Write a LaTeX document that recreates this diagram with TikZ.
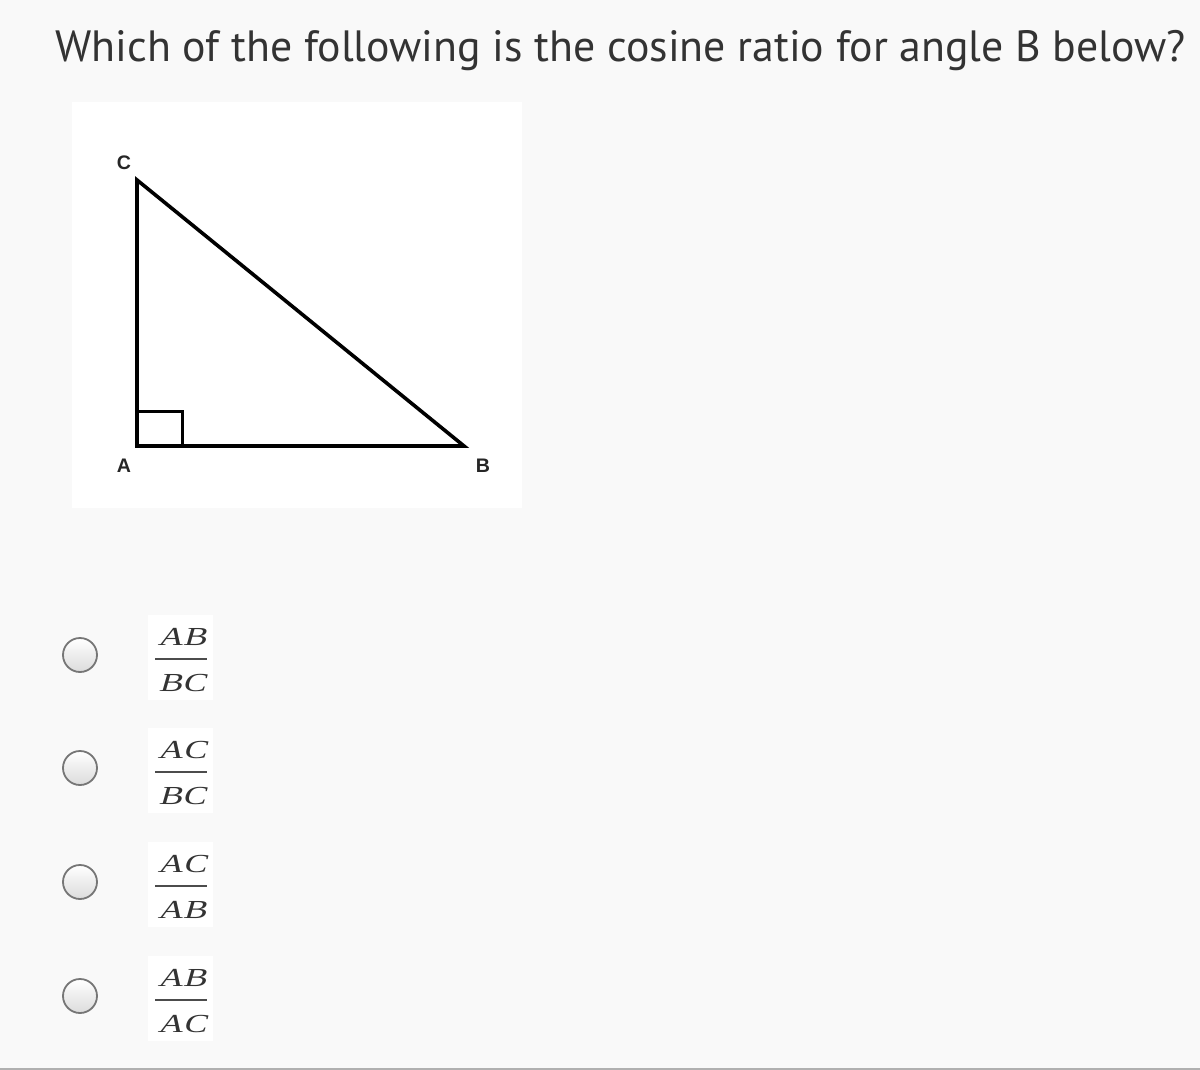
\documentclass[tikz,border=0pt]{standalone}
\usepackage{fontspec}
\setmainfont{PT Sans}
\newfontfamily\labelfont{Liberation Sans}
\newfontfamily\ratiofont{Liberation Serif}[FakeSlant=0.21]
\usetikzlibrary{positioning}
\definecolor{pagecolor}{RGB}{249,249,249}
\definecolor{textcolor}{RGB}{51,51,51}
\definecolor{radiocolor}{RGB}{118,118,118}
\definecolor{rulecolor}{RGB}{176,176,176}

\begin{document}
\begin{tikzpicture}[
    x=0.5pt, y=-0.5pt,
    question/.style={anchor=base west, inner sep=0pt, text=textcolor, font=\fontsize{21.9}{27}\selectfont},
    vertex/.style={inner sep=0pt, text=black!85, font=\labelfont\bfseries\fontsize{9.8}{12}\selectfont},
    side/.style={line width=1.8pt, line join=miter},
    anglemark/.style={line width=1.5pt},
    radio/.style={circle, minimum size=17pt, inner sep=0pt, draw=radiocolor, line width=0.9pt, top color=white, bottom color=black!14},
    ratio/.style={anchor=base, inner sep=0pt, text=black!80, font=\ratiofont\fontsize{13}{15}\selectfont},
    fracbar/.style={line width=0.9pt, draw=black!70},
    panel/.style={fill=white, draw=none}
]
\useasboundingbox (0,0) rectangle (1200,1070);

% Page background and bottom rule
\fill[pagecolor] (0,0) rectangle (1200,1070);
\fill[rulecolor] (0,1067.5) rectangle (1200,1070);

% Question
\node[question] (title) at (55,62) {Which of the following is the cosine ratio for angle B below?};

% Triangle figure
\fill[panel] (72,102) rectangle (522,508);
\coordinate (A) at (137,446);
\coordinate (B) at (464,446);
\coordinate (C) at (137,180);
\draw[side] (A) -- (B) -- (C) -- cycle;
\draw[anglemark] (A) ++(0,-35) -| ++(45,35);
\node[vertex] (labC) at (124,163) {C};
\node[vertex] (labA) at (124,466) {A};
\node[vertex] (labB) at (483,466) {B};

% Answer options
\fill[panel] (148,615) rectangle (213,700);
\node[radio] (opt1) at (80,655) {};
\node[ratio] (num1) at (182,645) {\scalebox{1.35}[1]{AB}};
\draw[fracbar] (155,659) -- (207,659);
\node[ratio] (den1) at (182,691) {\scalebox{1.35}[1]{BC}};

\fill[panel] (148,728) rectangle (213,813);
\node[radio] (opt2) at (80,768) {};
\node[ratio] (num2) at (182,758) {\scalebox{1.35}[1]{AC}};
\draw[fracbar] (155,772) -- (207,772);
\node[ratio] (den2) at (182,804) {\scalebox{1.35}[1]{BC}};

\fill[panel] (148,842) rectangle (213,927);
\node[radio] (opt3) at (80,882) {};
\node[ratio] (num3) at (182,872) {\scalebox{1.35}[1]{AC}};
\draw[fracbar] (155,886) -- (207,886);
\node[ratio] (den3) at (182,918) {\scalebox{1.35}[1]{AB}};

\fill[panel] (148,956) rectangle (213,1041);
\node[radio] (opt4) at (80,996) {};
\node[ratio] (num4) at (182,986) {\scalebox{1.35}[1]{AB}};
\draw[fracbar] (155,1000) -- (207,1000);
\node[ratio] (den4) at (182,1032) {\scalebox{1.35}[1]{AC}};
\end{tikzpicture}
\end{document}
